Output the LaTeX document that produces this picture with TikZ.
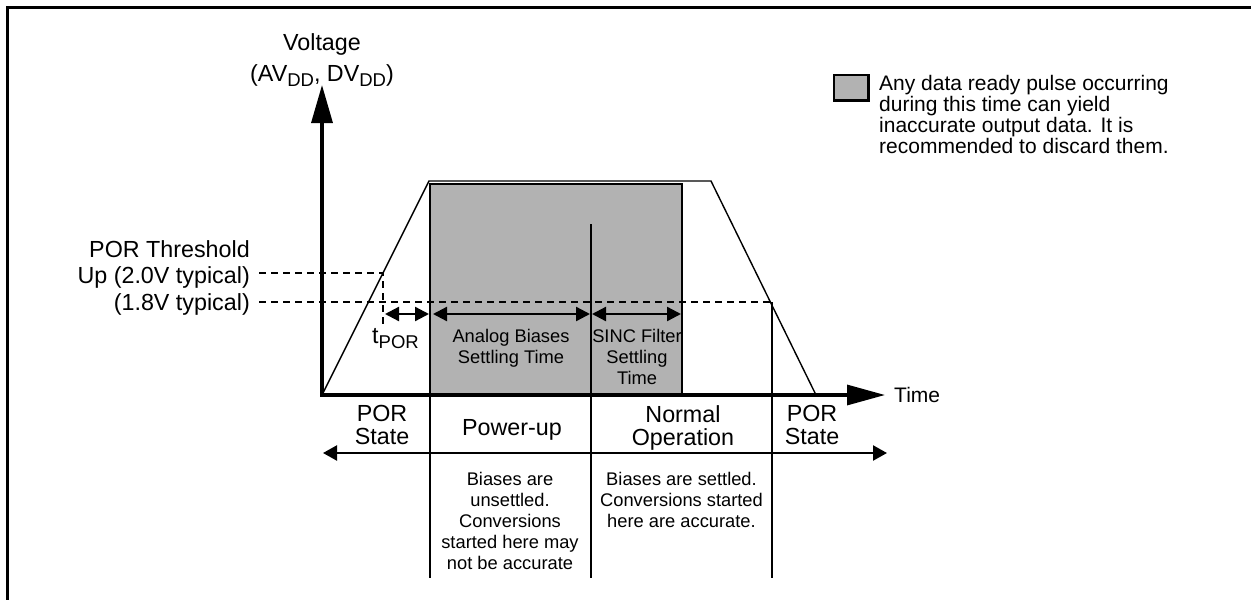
\documentclass[tikz,border=0pt]{standalone}
\usepackage{fontspec}
\setmainfont{Liberation Sans}
\usepackage{tikz}
\usetikzlibrary{positioning,arrows.meta}

\newcommand{\lowsub}[1]{\raisebox{-0.22em}{\fontsize{18.5}{18.5}\selectfont #1}}

\begin{document}
\begin{tikzpicture}[
  x=1pt, y=-1pt,
  big/.style={font={\fontsize{23.3}{23.3}\selectfont}, inner sep=0pt, align=center},
  small/.style={font={\fontsize{18.3}{21}\selectfont}, inner sep=0pt, align=center},
  keytxt/.style={font={\fontsize{21}{21}\selectfont}, inner sep=0pt, align=left},
  axis/.style={line width=3.3pt, -{Triangle[length=38pt,width=21pt]}},
  edge/.style={line width=1.4pt, line join=miter},
  shade/.style={draw, fill=black!30, line width=2.3pt},
  thr/.style={line width=2pt, dash pattern=on 7pt off 5pt},
  divider/.style={line width=2pt},
  span/.style={line width=2.3pt, {Triangle[length=14pt,width=14pt]}-{Triangle[length=14pt,width=14pt]}},
]
\useasboundingbox (0,0) rectangle (1251,600);

% --- Frame ---
\draw[line width=3pt] (7.5,600) -- (7.5,7.5) -- (1251,7.5);

% --- Key points ---
\coordinate (origin) at (322,395);
\coordinate (ytip) at (322,85);
\coordinate (xtip) at (885,395);
\coordinate (rise) at (429,181);
\coordinate (fall) at (711,181);
\coordinate (off) at (816,395);
\coordinate (thrup) at (259,273);
\coordinate (cross) at (383,273);
\coordinate (crosslow) at (383,327);
\coordinate (thrdn) at (259,302);
\coordinate (offcross) at (772,302);

% --- Settling region (shaded) ---
\draw[shade] (430,395) rectangle (682,184);

% --- Supply ramp ---
\draw[edge] (origin) -- (rise) -- (fall) -- (off);

% --- Thresholds ---
\draw[thr] (thrup) -- (cross) -- (crosslow);
\draw[thr] (thrdn) -- (offcross);

% --- Phase dividers ---
\draw[divider] (430,395) -- (430,578);
\draw[divider] (591,224) -- (591,578);
\draw[divider] (offcross) -- (772,578);

% --- Axes ---
\draw[axis] (origin) -- (ytip);
\draw[axis, -{Triangle[length=38pt,width=20pt]}] ([xshift=-1.65pt]origin) -- (xtip);

% --- Time spans ---
\coordinate (t0) at (385,314);
\coordinate (t1) at (431,314);
\coordinate (t2) at (591,314);
\coordinate (t3) at (681,314);
\draw[span] (t0) -- ([xshift=-2pt]t1);
\draw[span] ([xshift=2pt]t1) -- ([xshift=-1pt]t2);
\draw[span] ([xshift=1pt]t2) -- (t3);
\coordinate (s0) at (323,453);
\coordinate (s1) at (887,453);
\draw[span, {Triangle[length=14pt,width=15pt]}-{Triangle[length=14pt,width=15pt]}] (s0) -- (s1);

% --- Axis labels ---
\node[big, anchor=base] (volt) at (322,50) {Voltage};
\node[big, anchor=base] (supply) at (322,81.7) {(AV\lowsub{DD}, DV\lowsub{DD})};
\node[keytxt, right=9pt of xtip] (timelbl) {Time};
\node[big, align=right, anchor=north east, font={\fontsize{23.3}{26.7}\selectfont}] (porlbl) at (250,240)
  {POR Threshold\\Up (2.0V typical)\\(1.8V typical)};

% --- Span labels ---
\node[big, anchor=base west] (tpor) at (372,343) {t\lowsub{POR}};
\node[small, anchor=north] (biaslbl) at (511,329.3) {Analog Biases\\Settling Time};
\node[small, anchor=north] (sinclbl) at (637,329.3) {SINC Filter\\Settling\\Time};

% --- Phases ---
\node[big, anchor=north] (por1) at (382,405) {POR\\State};
\node[big, anchor=base] (pwr) at (512,435) {Power-up};
\node[big, anchor=north] (norm) at (683,405) {Normal\\Operation};
\node[big, anchor=north] (por2) at (812,405) {POR\\State};

\node[small, anchor=north] (unset) at (510,471.7)
  {Biases are\\unsettled.\\Conversions\\started here may\\not be accurate};
\node[small, anchor=north] (settled) at (681.5,472.3)
  {Biases are settled.\\Conversions started\\here are accurate.};

% --- Key ---
\node[draw, line width=2.5pt, fill=black!30, minimum width=34.8pt, minimum height=25.3pt, inner sep=0pt] (key) at (851.3,87.8) {};
\node[keytxt, anchor=north west] (keynote) at (879,75)
  {Any data ready pulse occurring\\during this time can yield\\inaccurate output data. It is\\recommended to discard them.};

\end{tikzpicture}
\end{document}
